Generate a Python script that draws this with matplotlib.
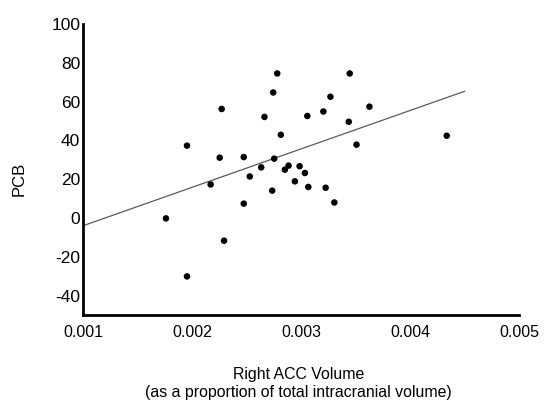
import matplotlib
matplotlib.use("Agg")
import matplotlib.pyplot as plt

plt.rcParams['font.family'] = ['Liberation Sans', 'DejaVu Sans']

# Data
acc_volume = [0.002782, 0.003447, 0.002745, 0.003270, 0.003628, 0.002272,
              0.003205, 0.003058, 0.002665, 0.003438, 0.002815, 0.004337,
              0.003509, 0.001954, 0.002254, 0.002475, 0.002754, 0.002886,
              0.002987, 0.002635, 0.002852, 0.003036, 0.002530, 0.002944,
              0.002171, 0.003067, 0.003226, 0.002736, 0.003306, 0.002475,
              0.001761, 0.002294, 0.001954]
pcb = [74.5, 74.5, 64.7, 62.5, 57.4, 56.2,
       54.9, 52.6, 52.1, 49.6, 42.9, 42.4,
       37.8, 37.3, 31.1, 31.4, 30.6, 27.0,
       26.7, 26.1, 24.9, 23.2, 21.4, 18.9,
       17.3, 16.0, 15.6, 14.1, 8.0, 7.4,
       -0.2, -11.7, -30.1]
fit_x = [0.001, 0.0045]
fit_y = [-4.0, 65.3]

x_ticks = [0.001, 0.002, 0.003, 0.004, 0.005]
x_tick_labels = ['0.001', '0.002', '0.003', '0.004', '0.005']
y_ticks = [-40, -20, 0, 20, 40, 60, 80, 100]
y_tick_labels = ['-40', '-20', '0', '20', '40', '60', '80', '100']

W, H = 544, 401
fig = plt.figure(figsize=(W / 100, H / 100), dpi=100)
ax = fig.add_axes([83 / W, 1 - 315 / H, (519 - 83) / W, (315 - 24) / H])

ax.plot(fit_x, fit_y, color='#5a5a5a', linewidth=0.9, zorder=2)
ax.scatter(acc_volume, pcb, s=22, color='black', edgecolors='none', zorder=3)

ax.set_xlim(0.001, 0.005)
ax.set_ylim(-50, 100)
ax.set_xticks(x_ticks)
ax.set_xticklabels(x_tick_labels)
ax.set_yticks(y_ticks)
ax.set_yticklabels(y_tick_labels)
ax.tick_params(axis='both', length=0, colors='black')
ax.tick_params(axis='x', pad=7, labelsize=11.5)
ax.tick_params(axis='y', pad=2, labelsize=12.5)

for s in ['top', 'right']:
    ax.spines[s].set_visible(False)
for s in ['left', 'bottom']:
    ax.spines[s].set_linewidth(2.0)
    ax.spines[s].set_color('black')

fig.text(299 / W, 1 - 375 / H, 'Right ACC Volume', ha='center', va='center', fontsize=11.4)
fig.text(298 / W, 1 - 393 / H, '(as a proportion of total intracranial volume)',
         ha='center', va='center', fontsize=11.4)
fig.text(19 / W, 1 - 179 / H, 'PCB', ha='center', va='center', rotation=90, fontsize=12)

fig.savefig('out.png', dpi=100)
